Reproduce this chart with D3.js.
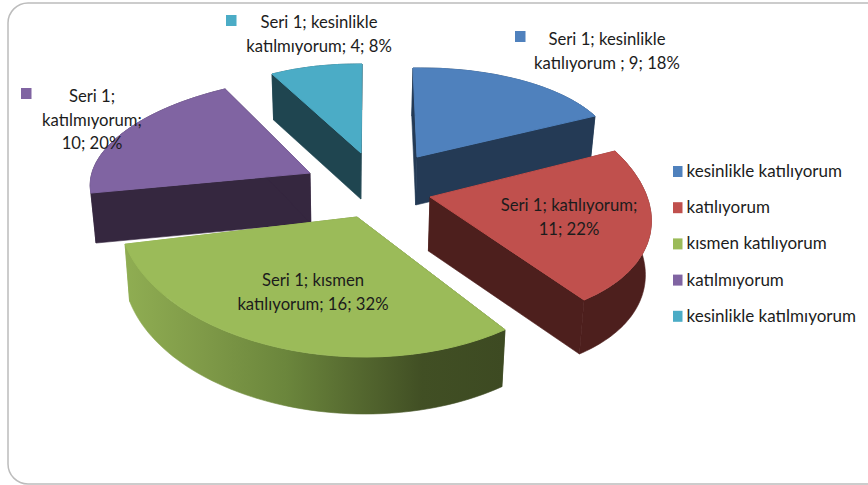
<!DOCTYPE html>
<html>
<head>
<meta charset="utf-8">
<script src="https://cdn.jsdelivr.net/npm/d3@7"></script>
<style>
html,body{margin:0;padding:0;background:#fff;overflow:hidden}
svg{display:block}
text{font-family:Lato,"Open Sans",sans-serif;font-size:16.7px;fill:#1c1c1c}
.legend text{font-size:17px}
</style>
</head>
<body>
<svg id="chart" width="868" height="485"></svg>
<script>
// ---- data ----
const categories = ["kesinlikle katılıyorum","katılıyorum","kısmen katılıyorum","katılmıyorum","kesinlikle katılmıyorum"];
const values = [9,11,16,10,4];
const percents = [18,22,32,20,8];
const seriesName = "Seri 1";
const labelLines = [
  [seriesName+"; kesinlikle","katılıyorum ; "+values[0]+"; "+percents[0]+"%"],
  [seriesName+"; katılıyorum;",values[1]+"; "+percents[1]+"%"],
  [seriesName+"; kısmen","katılıyorum; "+values[2]+"; "+percents[2]+"%"],
  [seriesName+";","katılmıyorum;",values[3]+"; "+percents[3]+"%"],
  [seriesName+"; kesinlikle","katılmıyorum; "+values[4]+"; "+percents[4]+"%"]
];
// ---- style / layout ----
const topColors = ["#4f81bd","#c0504d","#9bbb59","#8064a2","#4bacc6"];
const wallColors = ["#243a55","#4d1f1d","url(#greenWall)","#35273f","#1f4550"];
// per-slice perspective projection of the exploded 3D pie
const projections = [
  {o:[417,157],x:[198.6,-3.4],y:[4,89],lift:48},
  {o:[430,197],x:[219.2,6.8],y:[31.2,122.4],lift:54},
  {o:[357,217],x:[238,-1],y:[10,140],lift:57},
  {o:[310,173],x:[218.6,-1.9],y:[-23.3,97],lift:50},
  {o:[361,153],x:[186.5,2.1],y:[-1,89],lift:46}
];
const vanishX = 350, vanishRate = 0.02;
const drawOrder = [4,3,0,2,1];
const calloutLabels = [
  {cx:607,y:45,sw:[515,31]},
  {cx:569,y:211},
  {cx:313,y:286},
  {cx:92,y:102,sw:[21,88]},
  {cx:319,y:28,sw:[226,15]}
];
const lineStep = 23.6, swatch = 10.5;
const legendX = 673, legendY = 166, legendStep = 36.2;

const svg = d3.select("#chart");
const defs = svg.append("defs");
const grad = defs.append("linearGradient").attr("id","greenWall")
  .attr("gradientUnits","userSpaceOnUse").attr("x1",127).attr("x2",505).attr("y1",0).attr("y2",0);
[[0,"#8fad52"],[.2,"#7f9a48"],[.42,"#6b863c"],[.6,"#566a30"],[.78,"#414f24"],[1,"#3d4a22"]]
  .forEach(([o,c])=>grad.append("stop").attr("offset",o).attr("stop-color",c));

// card frame
svg.append("rect").attr("x",8).attr("y",3).attr("width",880).attr("height",481).attr("rx",20)
  .attr("fill","#fff").attr("stroke","#bcbcbc").attr("stroke-width",1.5);

const pie = d3.pie().sort(null).value(d=>d);
const arcs = pie(values);
const R = 100;
const arc = d3.arc().innerRadius(0).outerRadius(R);
const line = d3.line();

function project(p,[rx,ry],lifted){
  const x = p.o[0]+rx*p.x[0]+ry*p.y[0], y = p.o[1]+rx*p.x[1]+ry*p.y[1];
  return lifted ? [x-(x-vanishX)*vanishRate, y+p.lift] : [x,y];
}
const slices = svg.append("g");
drawOrder.forEach(i=>{
  const d = arcs[i], p = projections[i];
  const g = slices.append("g");
  const angles = d3.range(0,61).map(k=>d.startAngle+(d.endAngle-d.startAngle)*k/60);
  const unit = a=>d3.pointRadial(a,1);
  // rim wall
  const rim = angles.map(a=>project(p,unit(a),false)).concat(angles.slice().reverse().map(a=>project(p,unit(a),true)));
  g.append("path").attr("d",line(rim)+"Z").attr("fill",wallColors[i]).attr("stroke",wallColors[i]).attr("stroke-width",.6);
  // radial walls
  [d.startAngle,d.endAngle].forEach(a=>{
    const q=[project(p,[0,0],false),project(p,unit(a),false),project(p,unit(a),true),project(p,[0,0],true)];
    g.append("path").attr("d",line(q)+"Z").attr("fill",wallColors[i]).attr("stroke",wallColors[i]).attr("stroke-width",.6);
  });
  // top surface
  g.append("path").attr("d",arc(d))
    .attr("transform",`matrix(${p.x[0]/R},${p.x[1]/R},${p.y[0]/R},${p.y[1]/R},${p.o[0]},${p.o[1]})`)
    .attr("fill",topColors[i]).attr("stroke",topColors[i]).attr("stroke-width",1)
    .attr("vector-effect","non-scaling-stroke").attr("stroke-linejoin","round");
});

// data labels
calloutLabels.forEach((l,i)=>{
  if(l.sw) svg.append("rect").attr("x",l.sw[0]).attr("y",l.sw[1]).attr("width",swatch).attr("height",swatch+.5).attr("fill",topColors[i]);
  const t = svg.append("text").attr("text-anchor","middle");
  labelLines[i].forEach((s,k)=>t.append("tspan").attr("x",l.cx).attr("y",l.y+k*lineStep).text(s));
});

// legend
const leg = svg.append("g").attr("class","legend").selectAll("g").data(categories).join("g")
  .attr("transform",(d,i)=>`translate(${legendX},${legendY+i*legendStep})`);
leg.append("rect").attr("width",swatch-1).attr("height",swatch+.5).attr("fill",(d,i)=>topColors[i]);
leg.append("text").attr("x",13.5).attr("y",11).text(d=>d);
</script>
</body>
</html>
